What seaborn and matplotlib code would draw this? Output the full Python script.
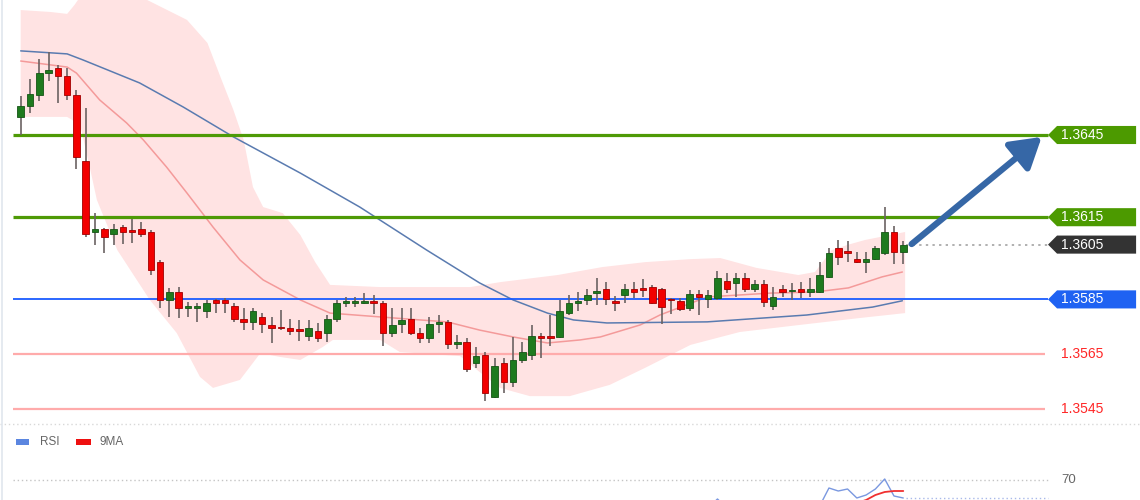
import matplotlib
matplotlib.use("Agg")
import matplotlib.pyplot as plt
from matplotlib.patches import Polygon, Rectangle
import numpy as np
import seaborn as sns

# --- DATEN ---
opens = [1.36516, 1.36556, 1.36596, 1.36676, 1.36695, 1.36665, 1.36596, 1.36355, 1.36096, 1.36107,
         1.36089, 1.36114, 1.36100, 1.36107, 1.36096, 1.35986, 1.35848, 1.35877, 1.35819, 1.35819,
         1.35808, 1.35848, 1.35848, 1.35826, 1.35778, 1.35768, 1.35786, 1.35757, 1.35746, 1.35746,
         1.35738, 1.35716, 1.35735, 1.35727, 1.35778, 1.35837, 1.35837, 1.35837, 1.35844, 1.35837,
         1.35727, 1.35760, 1.35778, 1.35727, 1.35709, 1.35760, 1.35768, 1.35687, 1.35694, 1.35618,
         1.35647, 1.35494, 1.35618, 1.35548, 1.35629, 1.35647, 1.35716, 1.35711, 1.35713, 1.35800,
         1.35837, 1.35848, 1.35875, 1.35888, 1.35844, 1.35866, 1.35888, 1.35888, 1.35895, 1.35888,
         1.35848, 1.35844, 1.35819, 1.35870, 1.35851, 1.35855, 1.35917, 1.35910, 1.35928, 1.35888,
         1.35906, 1.35826, 1.35888, 1.35879, 1.35888, 1.35877, 1.35877, 1.35932, 1.36038, 1.36027,
         1.35997, 1.35986, 1.35997, 1.36019, 1.36096, 1.36023]
highs = [1.36592, 1.36654, 1.36727, 1.36753, 1.36706, 1.36695, 1.36614, 1.36549, 1.36165, 1.36111,
         1.36125, 1.36122, 1.36143, 1.36132, 1.36103, 1.35994, 1.35892, 1.35895, 1.35840, 1.35837,
         1.35848, 1.35851, 1.35855, 1.35837, 1.35819, 1.35819, 1.35800, 1.35786, 1.35811, 1.35778,
         1.35775, 1.35775, 1.35764, 1.35793, 1.35848, 1.35859, 1.35859, 1.35873, 1.35866, 1.35844,
         1.35819, 1.35819, 1.35819, 1.35746, 1.35786, 1.35793, 1.35775, 1.35720, 1.35709, 1.35676,
         1.35658, 1.35636, 1.35636, 1.35713, 1.35694, 1.35757, 1.35727, 1.35793, 1.35848, 1.35866,
         1.35877, 1.35888, 1.35928, 1.35913, 1.35862, 1.35906, 1.35913, 1.35924, 1.35903, 1.35892,
         1.35855, 1.35855, 1.35884, 1.35884, 1.35884, 1.35954, 1.35946, 1.35946, 1.35946, 1.35921,
         1.35921, 1.35895, 1.35903, 1.35910, 1.35913, 1.35928, 1.35986, 1.36038, 1.36067, 1.36063,
         1.36023, 1.36023, 1.36045, 1.36187, 1.36118, 1.36063]
lows = [1.36450, 1.36530, 1.36574, 1.36647, 1.36567, 1.36578, 1.36326, 1.36078, 1.36049, 1.36019,
        1.36049, 1.36052, 1.36056, 1.36078, 1.35939, 1.35819, 1.35786, 1.35782, 1.35786, 1.35768,
        1.35782, 1.35800, 1.35800, 1.35768, 1.35738, 1.35738, 1.35727, 1.35691, 1.35738, 1.35720,
        1.35698, 1.35698, 1.35694, 1.35694, 1.35768, 1.35822, 1.35822, 1.35833, 1.35797, 1.35680,
        1.35713, 1.35727, 1.35720, 1.35691, 1.35691, 1.35727, 1.35669, 1.35669, 1.35585, 1.35600,
        1.35479, 1.35490, 1.35508, 1.35530, 1.35618, 1.35629, 1.35636, 1.35680, 1.35709, 1.35793,
        1.35808, 1.35830, 1.35830, 1.35830, 1.35808, 1.35837, 1.35855, 1.35859, 1.35833, 1.35760,
        1.35797, 1.35808, 1.35808, 1.35793, 1.35819, 1.35848, 1.35873, 1.35859, 1.35877, 1.35877,
        1.35822, 1.35811, 1.35859, 1.35848, 1.35855, 1.35859, 1.35873, 1.35928, 1.35976, 1.35986,
        1.35983, 1.35946, 1.35994, 1.36012, 1.35979, 1.35979]
closes = [1.36556, 1.36600, 1.36676, 1.36687, 1.36665, 1.36596, 1.36370, 1.36089, 1.36107, 1.36078,
          1.36107, 1.36096, 1.36096, 1.36089, 1.35957, 1.35848, 1.35877, 1.35819, 1.35826, 1.35822,
          1.35837, 1.35837, 1.35837, 1.35778, 1.35768, 1.35808, 1.35760, 1.35746, 1.35744, 1.35735,
          1.35736, 1.35746, 1.35709, 1.35778, 1.35837, 1.35840, 1.35840, 1.35844, 1.35837, 1.35727,
          1.35757, 1.35775, 1.35727, 1.35709, 1.35760, 1.35768, 1.35687, 1.35694, 1.35596, 1.35643,
          1.35508, 1.35607, 1.35548, 1.35629, 1.35658, 1.35716, 1.35709, 1.35709, 1.35808, 1.35837,
          1.35844, 1.35866, 1.35877, 1.35851, 1.35837, 1.35888, 1.35877, 1.35886, 1.35837, 1.35822,
          1.35846, 1.35815, 1.35870, 1.35859, 1.35866, 1.35928, 1.35888, 1.35928, 1.35888, 1.35906,
          1.35840, 1.35859, 1.35877, 1.35881, 1.35877, 1.35888, 1.35939, 1.36019, 1.36005, 1.36019,
          1.35986, 1.35997, 1.36038, 1.36096, 1.36023, 1.36050]

# gleitende Durchschnitte (Stuetzpunkte: Kerzen-Index, Kurs)
ma_red_idx = [0, 5, 6, 8.5, 11.4, 13.2, 15.7, 17.9, 20.7, 23.6, 26.1, 30.1, 33.3, 38.7, 43, 45.9,
              49.4, 53, 56.7, 60.2, 62.4, 66.7, 68.8, 73.9, 80.7, 85.5, 89.1, 92.7, 94.9]
ma_red = [1.36720, 1.36698, 1.36676, 1.36578, 1.36494, 1.36432, 1.36333, 1.36238, 1.36114, 1.35994,
          1.35921, 1.35848, 1.35800, 1.35786, 1.35775, 1.35768, 1.35738, 1.35713, 1.35691, 1.35702,
          1.35713, 1.35757, 1.35793, 1.35859, 1.35873, 1.35877, 1.35892, 1.35932, 1.35950]
ma_blue_idx = [0, 5, 6.7, 12.8, 17.5, 22.9, 30.1, 36.5, 43.7, 49.4, 53, 56.7, 59.5, 63.1, 73.9,
               84.6, 91.7, 94.9]
ma_blue = [1.36757, 1.36746, 1.36724, 1.36640, 1.36552, 1.36443, 1.36311, 1.36187, 1.36030, 1.35910,
           1.35848, 1.35800, 1.35775, 1.35764, 1.35768, 1.35793, 1.35822, 1.35845]

# Bollinger-Band
band_up_idx = [0, 3.2, 5, 5.8, 6.9, 9.6, 13.6, 17.9, 20.1, 21.5, 22.9, 24, 25, 26.1, 28.2, 30.1,
               31.7, 33.3, 38.7, 48.4, 51.6, 57.8, 62.6, 67.2, 72.1, 75.3, 79.2, 83.7, 85.5, 87.3,
               89, 90.9, 95.2]
band_up = [1.36906, 1.36899, 1.36892, 1.36925, 1.36979, 1.37034, 1.36943, 1.36870, 1.36786, 1.36662,
           1.36541, 1.36432, 1.36260, 1.36187, 1.36165, 1.36085, 1.35986, 1.35903, 1.35895, 1.35895,
           1.35913, 1.35939, 1.35968, 1.35986, 1.35997, 1.36001, 1.35965, 1.35939, 1.35950, 1.36030,
           1.36049, 1.36067, 1.36096]
band_lo_idx = [0, 5, 6.4, 7.5, 8.2, 10.4, 13.9, 16.8, 19.3, 20.7, 23.6, 25.8, 27.9, 30.1, 32.5,
               33.6, 38.7, 40.8, 47.3, 49.4, 51.6, 54.8, 59.1, 63.4, 67.2, 72.1, 77.4, 83.9, 90.3, 95.2]
band_lo = [1.36516, 1.36516, 1.36487, 1.36322, 1.36213, 1.36030, 1.35848, 1.35727, 1.35567, 1.35527,
           1.35556, 1.35654, 1.35640, 1.35629, 1.35676, 1.35702, 1.35702, 1.35658, 1.35643, 1.35585,
           1.35527, 1.35497, 1.35497, 1.35538, 1.35600, 1.35684, 1.35731, 1.35757, 1.35782, 1.35800]

levels_res = [1.3645, 1.3615]
level_sup = 1.3585
levels_low = [1.3565, 1.3545]
last_price = 1.3605
target_from = (95.9, 1.36052)
target_to = (109.9, 1.36443)

# RSI-Panel
rsi_idx = list(range(70, 96))
rsi_vals = [36, 34, 38, 40, 42, 51, 42, 40, 38, 39, 35, 38, 37, 38, 36, 40, 44, 62, 59, 61,
            52, 55, 61, 71, 54, 52]
rsi_ma_idx = [85, 86, 87, 88, 89, 90, 91, 92, 93, 94, 95]
rsi_ma_vals = [40, 41, 42, 44, 45, 47, 50, 55, 58, 59, 59]
rsi_level = 70

# --- STYLE ---
sns.set_theme(style="white")
plt.rcParams['font.family'] = ['Liberation Sans', 'DejaVu Sans']

GREEN_LINE = '#4e9a06'
BLUE_LINE = '#1a5cff'
RED_LINE = '#ffabab'
XLIM = (-2.228, 120.48)

fig = plt.figure(figsize=(11.4, 5), dpi=100, facecolor='white')
ax = fig.add_axes([0, 75 / 500, 1, 425 / 500])
ax_rsi = fig.add_axes([0, 0, 1, 75 / 500])
ov = fig.add_axes([0, 0, 1, 1], zorder=-1)
for a in (ax, ax_rsi, ov):
    a.set_facecolor('none')
    a.axis('off')
ov.set_xlim(0, 1140)
ov.set_ylim(500, 0)

ax.set_xlim(*XLIM)
ax.set_ylim(1.353916, 1.369427)

# Band
ax.fill(band_up_idx + band_lo_idx[::-1], band_up + band_lo[::-1],
        color='#ffe3e3', lw=0, zorder=1)

# Durchschnitte
sns.lineplot(x=ma_red_idx, y=ma_red, ax=ax, color='#f49a9a', lw=1.1, zorder=2)
sns.lineplot(x=ma_blue_idx, y=ma_blue, ax=ax, color='#5a7bb0', lw=1.1, zorder=2)

# Linien
x0, x_tip, x_body, x_end, x_txt = -0.83, 110.58, 111.55, 120.06, 111.98
h = 0.00033
for lv in levels_res:
    ax.hlines(lv, x0, x_tip, color=GREEN_LINE, lw=2.3, zorder=3)
ax.hlines(level_sup, x0, x_tip, color=BLUE_LINE, lw=1.3, zorder=3)
for lv in levels_low:
    ax.hlines(lv, x0, x_tip - 0.3, color=RED_LINE, lw=1.6, zorder=3)
    ax.text(x_txt, lv, f"{lv:.4f}", color='#ff2626', fontsize=10, ha='left', va='center')
ax.hlines(last_price, 95.3, x_tip, color='#b0b0b0', lw=1.4, linestyles=(0, (1.2, 2.2)), zorder=3)


def draw_tag(level, color):
    pts = [(x_tip, level), (x_body, level + h), (x_end, level + h),
           (x_end, level - h), (x_body, level - h)]
    ax.add_patch(Polygon(pts, closed=True, color=color, lw=0, zorder=5))
    ax.text(x_txt, level, f"{level:.4f}", color='white', fontsize=10,
            ha='left', va='center', zorder=6)


for lv in levels_res:
    draw_tag(lv, '#4c9a00')
draw_tag(last_price, '#333333')
draw_tag(level_sup, '#1f62f2')

# Kerzen
idx = np.arange(len(opens))
o, hi, lo, c = map(np.array, (opens, highs, lows, closes))
up = c >= o
ax.vlines(idx, lo, hi, color='#6b6262', lw=1.2, zorder=4)
body_bot = np.minimum(o, c)
body_h = np.maximum(np.abs(c - o), 0.00006)
ax.bar(idx[up], body_h[up], bottom=body_bot[up], width=0.7,
       color='#1e7a1e', edgecolor='#155515', lw=0.6, zorder=4)
ax.bar(idx[~up], body_h[~up], bottom=body_bot[~up], width=0.7,
       color='#f20000', edgecolor='#a00000', lw=0.6, zorder=4)

# Pfeil
ax.annotate('', xy=target_to, xytext=target_from,
            arrowprops=dict(arrowstyle='-|>,head_length=0.9,head_width=0.55',
                            color='#3667a6', lw=4.5, mutation_scale=20,
                            shrinkA=0, shrinkB=0), zorder=7)

# RSI
ax_rsi.set_xlim(*XLIM)
ax_rsi.set_ylim(50, 125)
ax_rsi.hlines(rsi_level, x0, x_tip, color='#c4c4c4', lw=1.0, linestyles=(0, (1, 2)))
ax_rsi.text(x_txt, rsi_level, str(rsi_level), color='#666666', fontsize=9.5,
            ha='left', va='center')
ax_rsi.hlines(rsi_vals[-1], 95.3, x_tip, color='#a9b9ea', lw=1.0, linestyles=(0, (1, 2)))
sns.lineplot(x=rsi_idx, y=rsi_vals, ax=ax_rsi, color='#7a98e0', lw=1.0)
sns.lineplot(x=rsi_ma_idx, y=rsi_ma_vals, ax=ax_rsi, color='#f03030', lw=1.3)

# Deko: Trenner, Legende, Rand
ov.hlines(424, 0, 1140, color='#d8d8d8', lw=1.0, linestyles=(0, (1, 2)))
ov.vlines(1.5, 0, 500, color='#e0e6ee', lw=1.2)
ov.add_patch(Rectangle((16, 438.5), 13, 6, color='#5b86e0', lw=0))
ov.text(40, 442, 'RSI', color='#666666', fontsize=8.5, va='center')
ov.add_patch(Rectangle((76, 438.5), 15, 6, color='#ee1010', lw=0))
ov.text(100, 442, '9MA', color='#666666', fontsize=8.5, va='center')

plt.savefig('out.png', dpi=100, facecolor='white')
plt.close()
